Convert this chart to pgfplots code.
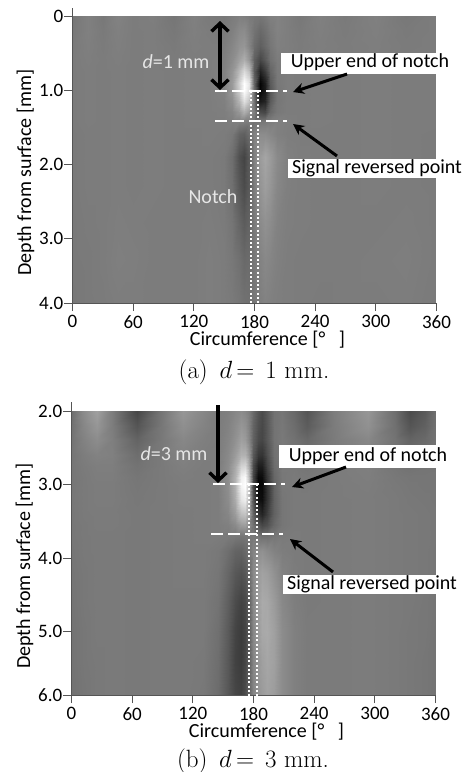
\documentclass[border=0pt]{standalone}
\usepackage{fontspec}
\usepackage{pgfplots}
\pgfplotsset{compat=1.18}
\usetikzlibrary{arrows.meta}
\newfontfamily\carl{Carlito}
\definecolor{axc}{HTML}{555555}
\definecolor{lab}{HTML}{E6E6E6}
\pgfplotsset{
 hm/.style={
  scale only axis,width=364pt,height=287pt,anchor=south west,
  xmin=0,xmax=360,xtick={0,60,120,180,240,300,360},
  xticklabels={0,60,120,180,240,300,360},
  axis x line=bottom,axis y line=left,axis line style={-,axc,line width=0.8pt},
  tick align=outside,major tick length=8pt,
  every tick/.style={axc,line width=0.8pt},
  tick label style={font=\carl\fontsize{19}{19}\selectfont,black},
  xticklabel style={inner sep=0pt,yshift=-4pt},
  yticklabel style={inner sep=1pt},
  y dir=reverse,view={0}{90},colormap/blackwhite,
  point meta min=0,point meta max=255,
  label style={font=\carl\fontsize{20}{20}\selectfont,black},
  xlabel={Circumference [°\ \ \ ]},
  xlabel style={at={(axis description cs:0.5,0)},anchor=north,xshift=13pt,yshift=-28pt,inner sep=0pt},
  ylabel={Depth from surface [mm]},
  ylabel style={at={(axis description cs:0,0.5)},anchor=south,xshift=-13pt,yshift=38pt,inner sep=0pt},
  axis on top,
 },
 hs/.style={surf,shader=interp,mesh/ordering=x varies,mesh/cols=#1},
}
\begin{document}
\begin{tikzpicture}[x=1pt,y=-1pt]
\path[use as bounding box] (0,0) rectangle (467,772);
\begin{axis}[hm,at={(72.5pt,-303pt)},ymin=0,ymax=3.88,ytick={0,1,2,3,3.88},yticklabels={0,1.0,2.0,3.0,4.0}]
\addplot3[hs=26,mesh/rows=16] table[row sep=\\,meta index=2,x index=0,y index=1,z index=2,header=false]{
0 0 118\\15 0 128\\30 0 120\\45 0 130\\60 0 124\\80 0 126\\100 0 118\\120 0 128\\135 0 122\\150 0 120\\158 0 124\\165 0 128\\170 0 126\\175 0 122\\180 0 120\\185 0 118\\190 0 122\\195 0 128\\202 0 130\\212 0 126\\225 0 120\\245 0 128\\270 0 122\\300 0 128\\330 0 120\\360 0 124\\
0 0.2 120\\15 0.2 128\\30 0.2 122\\45 0.2 128\\60 0.2 124\\80 0.2 125\\100 0.2 120\\120 0.2 127\\135 0.2 124\\150 0.2 122\\158 0.2 128\\165 0.2 138\\170 0.2 140\\175 0.2 128\\180 0.2 115\\185 0.2 105\\190 0.2 112\\195 0.2 122\\202 0.2 130\\212 0.2 126\\225 0.2 122\\245 0.2 127\\270 0.2 123\\300 0.2 127\\330 0.2 122\\360 0.2 124\\
0 0.4 122\\15 0.4 127\\30 0.4 123\\45 0.4 127\\60 0.4 124\\80 0.4 125\\100 0.4 122\\120 0.4 126\\135 0.4 125\\150 0.4 125\\158 0.4 134\\165 0.4 146\\170 0.4 150\\175 0.4 132\\180 0.4 108\\185 0.4 95\\190 0.4 105\\195 0.4 118\\202 0.4 128\\212 0.4 126\\225 0.4 123\\245 0.4 126\\270 0.4 124\\300 0.4 126\\330 0.4 123\\360 0.4 124\\
0 0.6 123\\15 0.6 126\\30 0.6 124\\45 0.6 126\\60 0.6 124\\80 0.6 125\\100 0.6 123\\120 0.6 125\\135 0.6 125\\150 0.6 128\\158 0.6 140\\165 0.6 160\\170 0.6 175\\175 0.6 150\\180 0.6 95\\185 0.6 70\\190 0.6 88\\195 0.6 112\\202 0.6 124\\212 0.6 125\\225 0.6 124\\245 0.6 125\\270 0.6 124\\300 0.6 125\\330 0.6 124\\360 0.6 124\\
0 0.75 123\\15 0.75 125\\30 0.75 124\\45 0.75 125\\60 0.75 124\\80 0.75 125\\100 0.75 124\\120 0.75 125\\135 0.75 125\\150 0.75 130\\158 0.75 148\\165 0.75 185\\170 0.75 218\\175 0.75 190\\180 0.75 90\\185 0.75 35\\190 0.75 60\\195 0.75 100\\202 0.75 122\\212 0.75 125\\225 0.75 124\\245 0.75 125\\270 0.75 124\\300 0.75 125\\330 0.75 124\\360 0.75 124\\
0 0.9 123\\15 0.9 125\\30 0.9 124\\45 0.9 125\\60 0.9 124\\80 0.9 125\\100 0.9 124\\120 0.9 125\\135 0.9 125\\150 0.9 130\\158 0.9 155\\165 0.9 210\\170 0.9 255\\175 0.9 230\\180 0.9 100\\185 0.9 5\\190 0.9 30\\195 0.9 90\\202 0.9 120\\212 0.9 125\\225 0.9 124\\245 0.9 125\\270 0.9 124\\300 0.9 125\\330 0.9 124\\360 0.9 124\\
0 1 123\\15 1 125\\30 1 124\\45 1 125\\60 1 124\\80 1 125\\100 1 124\\120 1 125\\135 1 125\\150 1 130\\158 1 152\\165 1 205\\170 1 255\\175 1 225\\180 1 105\\185 1 5\\190 1 25\\195 1 85\\202 1 118\\212 1 125\\225 1 124\\245 1 125\\270 1 124\\300 1 125\\330 1 124\\360 1 124\\
0 1.15 123\\15 1.15 125\\30 1.15 124\\45 1.15 125\\60 1.15 124\\80 1.15 125\\100 1.15 124\\120 1.15 125\\135 1.15 125\\150 1.15 128\\158 1.15 142\\165 1.15 180\\170 1.15 225\\175 1.15 195\\180 1.15 115\\185 1.15 25\\190 1.15 35\\195 1.15 90\\202 1.15 118\\212 1.15 124\\225 1.15 124\\245 1.15 125\\270 1.15 124\\300 1.15 125\\330 1.15 124\\360 1.15 124\\
0 1.3 123\\15 1.3 125\\30 1.3 124\\45 1.3 125\\60 1.3 124\\80 1.3 125\\100 1.3 124\\120 1.3 125\\135 1.3 125\\150 1.3 126\\158 1.3 132\\165 1.3 150\\170 1.3 175\\175 1.3 155\\180 1.3 125\\185 1.3 75\\190 1.3 70\\195 1.3 105\\202 1.3 120\\212 1.3 124\\225 1.3 124\\245 1.3 125\\270 1.3 124\\300 1.3 125\\330 1.3 124\\360 1.3 124\\
0 1.42 123\\15 1.42 125\\30 1.42 124\\45 1.42 125\\60 1.42 124\\80 1.42 125\\100 1.42 124\\120 1.42 125\\135 1.42 125\\150 1.42 125\\158 1.42 126\\165 1.42 128\\170 1.42 128\\175 1.42 125\\180 1.42 115\\185 1.42 118\\190 1.42 120\\195 1.42 124\\202 1.42 128\\212 1.42 126\\225 1.42 124\\245 1.42 125\\270 1.42 124\\300 1.42 125\\330 1.42 124\\360 1.42 124\\
0 1.6 122\\15 1.6 124\\30 1.6 124\\45 1.6 125\\60 1.6 124\\80 1.6 125\\100 1.6 124\\120 1.6 124\\135 1.6 125\\150 1.6 124\\158 1.6 120\\165 1.6 100\\170 1.6 95\\175 1.6 110\\180 1.6 130\\185 1.6 140\\190 1.6 140\\195 1.6 135\\202 1.6 128\\212 1.6 125\\225 1.6 124\\245 1.6 124\\270 1.6 124\\300 1.6 125\\330 1.6 124\\360 1.6 123\\
0 1.9 122\\15 1.9 124\\30 1.9 124\\45 1.9 125\\60 1.9 124\\80 1.9 125\\100 1.9 124\\120 1.9 124\\135 1.9 124\\150 1.9 122\\158 1.9 110\\165 1.9 80\\170 1.9 68\\175 1.9 90\\180 1.9 130\\185 1.9 155\\190 1.9 165\\195 1.9 155\\202 1.9 138\\212 1.9 128\\225 1.9 125\\245 1.9 124\\270 1.9 124\\300 1.9 125\\330 1.9 124\\360 1.9 123\\
0 2.3 122\\15 2.3 124\\30 2.3 124\\45 2.3 125\\60 2.3 124\\80 2.3 125\\100 2.3 124\\120 2.3 124\\135 2.3 124\\150 2.3 122\\158 2.3 112\\165 2.3 88\\170 2.3 75\\175 2.3 90\\180 2.3 125\\185 2.3 148\\190 2.3 158\\195 2.3 150\\202 2.3 135\\212 2.3 127\\225 2.3 125\\245 2.3 124\\270 2.3 124\\300 2.3 125\\330 2.3 124\\360 2.3 123\\
0 2.8 121\\15 2.8 123\\30 2.8 124\\45 2.8 126\\60 2.8 125\\80 2.8 124\\100 2.8 124\\120 2.8 124\\135 2.8 125\\150 2.8 123\\158 2.8 117\\165 2.8 102\\170 2.8 92\\175 2.8 100\\180 2.8 122\\185 2.8 138\\190 2.8 145\\195 2.8 140\\202 2.8 130\\212 2.8 126\\225 2.8 125\\245 2.8 124\\270 2.8 124\\300 2.8 124\\330 2.8 125\\360 2.8 123\\
0 3.3 121\\15 3.3 122\\30 3.3 124\\45 3.3 127\\60 3.3 126\\80 3.3 124\\100 3.3 124\\120 3.3 124\\135 3.3 126\\150 3.3 124\\158 3.3 120\\165 3.3 113\\170 3.3 105\\175 3.3 108\\180 3.3 120\\185 3.3 130\\190 3.3 136\\195 3.3 133\\202 3.3 128\\212 3.3 125\\225 3.3 124\\245 3.3 124\\270 3.3 124\\300 3.3 125\\330 3.3 126\\360 3.3 123\\
0 3.88 120\\15 3.88 122\\30 3.88 123\\45 3.88 125\\60 3.88 125\\80 3.88 124\\100 3.88 124\\120 3.88 124\\135 3.88 126\\150 3.88 124\\158 3.88 122\\165 3.88 118\\170 3.88 113\\175 3.88 112\\180 3.88 120\\185 3.88 126\\190 3.88 130\\195 3.88 128\\202 3.88 126\\212 3.88 125\\225 3.88 124\\245 3.88 123\\270 3.88 124\\300 3.88 124\\330 3.88 125\\360 3.88 122\\
};
\end{axis}
\begin{axis}[hm,at={(71.5pt,-695pt)},height=284pt,ymin=2,ymax=5.86,ytick={2,3,4,5,5.86},yticklabels={2.0,3.0,4.0,5.0,6.0}]
\addplot3[hs=28,mesh/rows=17] table[row sep=\\,meta index=2,x index=0,y index=1,z index=2,header=false]{
0 2 110\\12 2 140\\25 2 160\\40 2 125\\65 2 70\\90 2 118\\110 2 150\\130 2 135\\145 2 124\\155 2 128\\162 2 135\\168 2 140\\172 2 135\\176 2 125\\180 2 105\\184 2 85\\188 2 75\\193 2 90\\200 2 115\\208 2 118\\220 2 105\\233 2 85\\260 2 125\\293 2 150\\320 2 110\\335 2 75\\350 2 90\\360 2 110\\
0 2.2 114\\12 2.2 135\\25 2.2 150\\40 2.2 125\\65 2.2 85\\90 2.2 120\\110 2.2 143\\130 2.2 131\\145 2.2 124\\155 2.2 130\\162 2.2 140\\168 2.2 150\\172 2.2 145\\176 2.2 128\\180 2.2 100\\184 2.2 80\\188 2.2 72\\193 2.2 88\\200 2.2 115\\208 2.2 120\\220 2.2 109\\233 2.2 92\\260 2.2 124\\293 2.2 145\\320 2.2 112\\335 2.2 85\\350 2.2 97\\360 2.2 112\\
0 2.4 116\\12 2.4 130\\25 2.4 140\\40 2.4 127\\65 2.4 100\\90 2.4 121\\110 2.4 135\\130 2.4 127\\145 2.4 124\\155 2.4 133\\162 2.4 145\\168 2.4 160\\172 2.4 155\\176 2.4 133\\180 2.4 98\\184 2.4 75\\188 2.4 70\\193 2.4 88\\200 2.4 115\\208 2.4 121\\220 2.4 114\\233 2.4 105\\260 2.4 123\\293 2.4 135\\320 2.4 115\\335 2.4 100\\350 2.4 106\\360 2.4 114\\
0 2.6 117\\12 2.6 125\\25 2.6 130\\40 2.6 128\\65 2.6 110\\90 2.6 122\\110 2.6 130\\130 2.6 125\\145 2.6 125\\155 2.6 137\\162 2.6 155\\168 2.6 178\\172 2.6 178\\176 2.6 148\\180 2.6 88\\184 2.6 55\\188 2.6 52\\193 2.6 78\\200 2.6 112\\208 2.6 122\\220 2.6 120\\233 2.6 113\\260 2.6 123\\293 2.6 130\\320 2.6 116\\335 2.6 110\\350 2.6 113\\360 2.6 116\\
0 2.75 118\\12 2.75 123\\25 2.75 126\\40 2.75 126\\65 2.75 115\\90 2.75 122\\110 2.75 127\\130 2.75 124\\145 2.75 125\\155 2.75 140\\162 2.75 168\\168 2.75 210\\172 2.75 215\\176 2.75 165\\180 2.75 75\\184 2.75 30\\188 2.75 30\\193 2.75 68\\200 2.75 108\\208 2.75 121\\220 2.75 121\\233 2.75 117\\260 2.75 123\\293 2.75 127\\320 2.75 118\\335 2.75 114\\350 2.75 116\\360 2.75 117\\
0 2.9 118\\12 2.9 122\\25 2.9 125\\40 2.9 125\\65 2.9 118\\90 2.9 122\\110 2.9 125\\130 2.9 124\\145 2.9 125\\155 2.9 142\\162 2.9 178\\168 2.9 240\\172 2.9 250\\176 2.9 185\\180 2.9 70\\184 2.9 10\\188 2.9 12\\193 2.9 55\\200 2.9 103\\208 2.9 120\\220 2.9 122\\233 2.9 120\\260 2.9 123\\293 2.9 126\\320 2.9 120\\335 2.9 118\\350 2.9 118\\360 2.9 118\\
0 3 118\\12 3 122\\25 3 124\\40 3 124\\65 3 119\\90 3 122\\110 3 124\\130 3 124\\145 3 125\\155 3 142\\162 3 180\\168 3 245\\172 3 255\\176 3 190\\180 3 72\\184 3 5\\188 3 8\\193 3 50\\200 3 100\\208 3 120\\220 3 122\\233 3 121\\260 3 123\\293 3 125\\320 3 121\\335 3 119\\350 3 118\\360 3 118\\
0 3.2 119\\12 3.2 122\\25 3.2 124\\40 3.2 124\\65 3.2 120\\90 3.2 122\\110 3.2 124\\130 3.2 124\\145 3.2 125\\155 3.2 140\\162 3.2 172\\168 3.2 230\\172 3.2 240\\176 3.2 180\\180 3.2 85\\184 3.2 15\\188 3.2 12\\193 3.2 50\\200 3.2 98\\208 3.2 118\\220 3.2 122\\233 3.2 122\\260 3.2 123\\293 3.2 124\\320 3.2 122\\335 3.2 120\\350 3.2 119\\360 3.2 118\\
0 3.4 119\\12 3.4 122\\25 3.4 123\\40 3.4 123\\65 3.4 121\\90 3.4 122\\110 3.4 123\\130 3.4 124\\145 3.4 125\\155 3.4 134\\162 3.4 155\\168 3.4 190\\172 3.4 195\\176 3.4 160\\180 3.4 100\\184 3.4 50\\188 3.4 35\\193 3.4 60\\200 3.4 98\\208 3.4 118\\220 3.4 122\\233 3.4 122\\260 3.4 123\\293 3.4 124\\320 3.4 122\\335 3.4 121\\350 3.4 120\\360 3.4 119\\
0 3.55 119\\12 3.55 121\\25 3.55 123\\40 3.55 123\\65 3.55 121\\90 3.55 122\\110 3.55 123\\130 3.55 124\\145 3.55 125\\155 3.55 128\\162 3.55 138\\168 3.55 155\\172 3.55 158\\176 3.55 140\\180 3.55 115\\184 3.55 85\\188 3.55 70\\193 3.55 80\\200 3.55 104\\208 3.55 118\\220 3.55 122\\233 3.55 122\\260 3.55 123\\293 3.55 124\\320 3.55 122\\335 3.55 121\\350 3.55 120\\360 3.55 119\\
0 3.7 119\\12 3.7 121\\25 3.7 122\\40 3.7 122\\65 3.7 121\\90 3.7 122\\110 3.7 123\\130 3.7 124\\145 3.7 124\\155 3.7 122\\162 3.7 120\\168 3.7 118\\172 3.7 120\\176 3.7 122\\180 3.7 122\\184 3.7 118\\188 3.7 112\\193 3.7 112\\200 3.7 118\\208 3.7 122\\220 3.7 123\\233 3.7 122\\260 3.7 123\\293 3.7 124\\320 3.7 122\\335 3.7 121\\350 3.7 120\\360 3.7 119\\
0 3.9 118\\12 3.9 121\\25 3.9 122\\40 3.9 122\\65 3.9 121\\90 3.9 122\\110 3.9 123\\130 3.9 123\\145 3.9 120\\155 3.9 110\\162 3.9 100\\168 3.9 98\\172 3.9 105\\176 3.9 118\\180 3.9 132\\184 3.9 142\\188 3.9 145\\193 3.9 138\\200 3.9 130\\208 3.9 125\\220 3.9 123\\233 3.9 122\\260 3.9 123\\293 3.9 124\\320 3.9 122\\335 3.9 121\\350 3.9 120\\360 3.9 118\\
0 4.2 117\\12 4.2 120\\25 4.2 122\\40 4.2 122\\65 4.2 121\\90 4.2 122\\110 4.2 123\\130 4.2 123\\145 4.2 118\\155 4.2 102\\162 4.2 88\\168 4.2 82\\172 4.2 88\\176 4.2 108\\180 4.2 138\\184 4.2 155\\188 4.2 162\\193 4.2 158\\200 4.2 145\\208 4.2 130\\220 4.2 124\\233 4.2 122\\260 4.2 123\\293 4.2 124\\320 4.2 122\\335 4.2 121\\350 4.2 120\\360 4.2 118\\
0 4.6 116\\12 4.6 120\\25 4.6 122\\40 4.6 122\\65 4.6 121\\90 4.6 122\\110 4.6 122\\130 4.6 122\\145 4.6 115\\155 4.6 95\\162 4.6 76\\168 4.6 66\\172 4.6 72\\176 4.6 97\\180 4.6 136\\184 4.6 158\\188 4.6 170\\193 4.6 168\\200 4.6 155\\208 4.6 136\\220 4.6 126\\233 4.6 122\\260 4.6 123\\293 4.6 124\\320 4.6 122\\335 4.6 121\\350 4.6 119\\360 4.6 117\\
0 5 115\\12 5 119\\25 5 122\\40 5 122\\65 5 121\\90 5 122\\110 5 122\\130 5 122\\145 5 112\\155 5 90\\162 5 68\\168 5 60\\172 5 68\\176 5 95\\180 5 135\\184 5 155\\188 5 168\\193 5 170\\200 5 160\\208 5 140\\220 5 128\\233 5 123\\260 5 123\\293 5 124\\320 5 122\\335 5 120\\350 5 119\\360 5 116\\
0 5.4 115\\12 5.4 119\\25 5.4 121\\40 5.4 122\\65 5.4 121\\90 5.4 122\\110 5.4 122\\130 5.4 121\\145 5.4 110\\155 5.4 88\\162 5.4 66\\168 5.4 60\\172 5.4 70\\176 5.4 97\\180 5.4 133\\184 5.4 150\\188 5.4 160\\193 5.4 166\\200 5.4 160\\208 5.4 140\\220 5.4 128\\233 5.4 123\\260 5.4 123\\293 5.4 124\\320 5.4 122\\335 5.4 120\\350 5.4 118\\360 5.4 116\\
0 5.86 114\\12 5.86 118\\25 5.86 121\\40 5.86 122\\65 5.86 121\\90 5.86 122\\110 5.86 122\\130 5.86 120\\145 5.86 108\\155 5.86 87\\162 5.86 70\\168 5.86 65\\172 5.86 75\\176 5.86 100\\180 5.86 133\\184 5.86 148\\188 5.86 155\\193 5.86 162\\200 5.86 156\\208 5.86 140\\220 5.86 128\\233 5.86 123\\260 5.86 123\\293 5.86 124\\320 5.86 122\\335 5.86 120\\350 5.86 118\\360 5.86 115\\
};
\end{axis}
% axis stubs above the plots
\draw[axc,line width=0.8pt] (72.5,16)--(72.5,8);
\draw[axc,line width=0.8pt] (71.5,411)--(71.5,402);
\tikzset{
 wd/.style={white,line width=1.6pt,dash pattern=on 12pt off 5pt},
 wo/.style={white,line width=1.8pt,dash pattern=on 2pt off 2.2pt},
 ar/.style={black,line width=3pt,-{Stealth[length=11pt,width=11pt]}},
 bb/.style={black,line width=3.4pt},
 an/.style={font=\carl\fontsize{20}{20}\selectfont,inner sep=0pt},
 wb/.style={fill=white,inner sep=0pt},
}
% panel a annotations
\draw[wd] (215,91)--(287,91);
\draw[wd] (215,121)--(287,121);
\draw[wo] (251,91)--(251,303);
\draw[wo] (258,91)--(258,303);
\draw[bb,{Straight Barb[length=8pt,width=17pt,line width=3.4pt]}-{Straight Barb[length=8pt,width=17pt,line width=3.4pt]}] (220,21)--(220,90);
\node[an,lab] at (176,62) {\textit{d}=1 mm};
\node[an,lab] at (213,197) {Notch};
\fill[white] (281,53) rectangle (452,74);
\node[an] at (370,62) {Upper end of notch};
\fill[white] (288,159) rectangle (467,178);
\node[an] at (377,168) {Signal reversed point};
\draw[ar] (347,74)--(293,92);
\draw[ar] (337,156)--(293,124);
% panel b annotations
\draw[wd] (213,484)--(285,484);
\draw[wd] (211,534)--(283,534);
\draw[wo] (249,484)--(249,700);
\draw[wo] (257,484)--(257,700);
\draw[bb,-{Straight Barb[length=8pt,width=17pt,line width=3.4pt]}] (218,405)--(218,483);
\node[an,lab] at (174,454) {\textit{d}=3 mm};
\fill[white] (279,445) rectangle (452,468);
\node[an] at (368,456) {Upper end of notch};
\fill[white] (283,575) rectangle (467,594);
\node[an] at (372,584) {Signal reversed point};
\draw[ar] (346,467)--(292,487);
\draw[ar] (333,572)--(290,539);
% captions
\node[font=\fontsize{25}{25}\selectfont,inner sep=0pt,anchor=base] at (254,378) {(a) \,$d$\,=\;\,1 mm.};
\node[font=\fontsize{25}{25}\selectfont,inner sep=0pt,anchor=base] at (253,767) {(b) \,$d$\,=\;\,3 mm.};
\end{tikzpicture}
\end{document}
